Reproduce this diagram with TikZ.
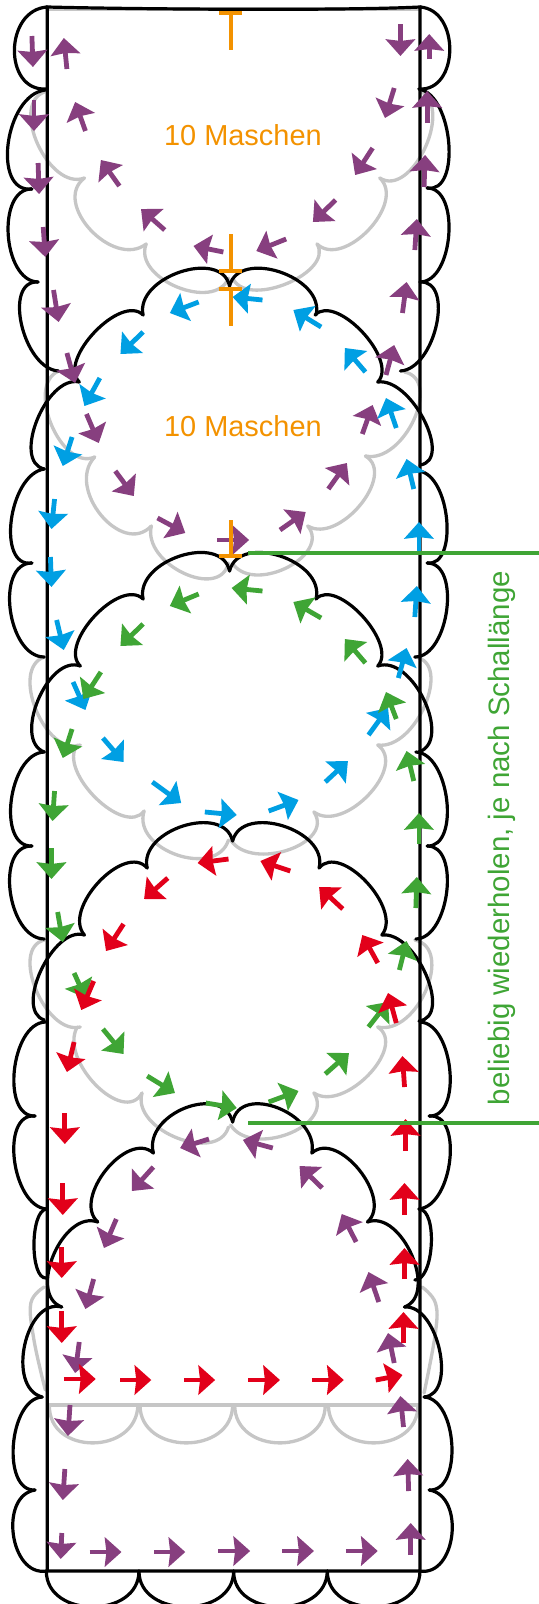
\documentclass[tikz,border=0pt]{standalone}
\usepackage{fontspec}
\setmainfont{Liberation Sans}
\usetikzlibrary{arrows.meta,calc}
\definecolor{lilaarw}{HTML}{873F7F}
\definecolor{blauarw}{HTML}{009FE3}
\definecolor{gruenarw}{HTML}{3FA535}
\definecolor{rotarw}{HTML}{E2001A}
\definecolor{orangeT}{HTML}{F39200}
\definecolor{grauline}{HTML}{C6C6C6}
\tikzset{
  inkline/.style={line width=2.4pt,black,line cap=round},
  greyline/.style={line width=2.5pt,grauline,line cap=round},
  arw/.style={line width=3.6pt,-{Stealth[length=12.5pt,width=22pt,inset=1.2pt]}},
  markT/.style={line width=3pt,orangeT},
  repeatline/.style={line width=2.4pt,gruenarw},
  orangelabel/.style={text=orangeT,font=\fontsize{21.7}{25}\selectfont},
  greenlabel/.style={text=gruenarw,font=\fontsize{22.1}{25}\selectfont,rotate=90}
}
% one scallop: start, point half way round, end
\newcommand{\lobe}[4][inkline]{\draw[#1] (#2) .. controls ($(#2)+1.3333*(#3)-0.6667*(#2)-0.6667*(#4)$) and ($(#4)+1.3333*(#3)-0.6667*(#2)-0.6667*(#4)$) .. (#4);}
\begin{document}
\begin{tikzpicture}[x=0.772pt,y=-0.75pt]
  \useasboundingbox (0,0) rectangle (522.67,1604);
  % grey scallops
  \draw[greyline] (46,9) -- (408,9);
  \lobe[greyline]{43,92}{37,145}{82,178}
  \lobe[greyline]{82,178}{88,230}{142,244}
  \lobe[greyline]{142,244}{172,287}{222,278}
  \lobe[greyline]{227,280}{280,283}{308,244}
  \lobe[greyline]{308,244}{358,230}{369,178}
  \lobe[greyline]{369,178}{412,150}{410,92}
  \lobe[greyline]{57,371}{50,425}{92,457}
  \lobe[greyline]{92,457}{98,515}{147,526}
  \lobe[greyline]{147,526}{178,573}{222,563}
  \lobe[greyline]{227,565}{280,567}{299,526}
  \lobe[greyline]{299,526}{350,505}{355,456}
  \lobe[greyline]{355,456}{402,420}{393,372}
  \lobe[greyline]{43,657}{35,710}{78,745}
  \lobe[greyline]{75,745}{93,798}{140,811}
  \lobe[greyline]{140,811}{172,855}{222,840}
  \lobe[greyline]{224,840}{280,850}{305,812}
  \lobe[greyline]{305,812}{358,795}{367,745}
  \lobe[greyline]{367,745}{413,705}{403,657}
  \lobe[greyline]{43,940}{35,990}{78,1027}
  \lobe[greyline]{75,1027}{93,1085}{138,1093}
  \lobe[greyline]{138,1093}{172,1138}{222,1127}
  \lobe[greyline]{224,1125}{280,1134}{305,1093}
  \lobe[greyline]{305,1093}{358,1075}{367,1027}
  \lobe[greyline]{367,1027}{414,990}{403,940}
  \draw[greyline] plot[smooth,tension=0.65] coordinates {(43,1287)(30,1303)(33,1340)(44,1390)};
  \draw[greyline] plot[smooth,tension=0.65] coordinates {(410,1287)(423,1303)(423,1333)(412,1393)};
  \draw[greyline] (48,1405) -- (406,1405);
  \lobe[greyline]{48,1405}{90,1443}{134,1405}
  \lobe[greyline]{136,1405}{181,1443}{226,1405}
  \lobe[greyline]{228,1405}{272,1443}{316,1405}
  \lobe[greyline]{319,1405}{363,1443}{406,1405}
  % black outline
  \draw[inkline] (46,1571) -- (46,7) .. controls (120,9) and (330,11) .. (408,7) -- (408,1571) -- cycle;
  % left side
  \lobe{46,7}{14,50}{45,89}
  \lobe{44,90}{8,143}{31,189}
  \lobe{31,189}{8,235}{37,282}
  \lobe{37,282}{21,325}{57,371}
  \lobe{223,286}{175,272}{139,315}
  \lobe{139,315}{92,332}{77,382}
  \lobe{77,382}{36,420}{43,469}
  \lobe{43,469}{11,520}{31,563}
  \lobe{31,563}{10,610}{43,657}
  \lobe{223,571}{175,556}{139,599}
  \lobe{139,599}{92,616}{78,666}
  \lobe{78,666}{37,700}{43,752}
  \lobe{43,752}{11,800}{31,846}
  \lobe{31,846}{10,892}{43,939}
  \lobe{226,841}{178,826}{143,868}
  \lobe{143,868}{96,882}{82,935}
  \lobe{82,935}{40,970}{43,1020}
  \lobe{44,1022}{14,1070}{34,1116}
  \lobe{34,1116}{14,1160}{45,1209}
  \lobe{45,1209}{33,1245}{45,1278}
  \lobe{226,1122}{180,1108}{149,1153}
  \lobe{149,1153}{103,1170}{95,1222}
  \lobe{95,1222}{52,1255}{60,1307}
  \lobe{60,1307}{24,1345}{41,1397}
  \lobe{41,1397}{13,1445}{34,1490}
  \lobe{34,1490}{13,1535}{45,1571}
  % right side
  \lobe{408,7}{437,50}{407,89}
  \lobe{407,89}{436,143}{415,188}
  \lobe{415,188}{436,235}{408,282}
  \lobe{408,282}{424,325}{389,371}
  \lobe{223,286}{272,272}{307,315}
  \lobe{306,315}{352,332}{367,382}
  \lobe{367,382}{412,420}{408,465}
  \lobe{407,471}{434,520}{415,563}
  \lobe{415,563}{434,610}{403,657}
  \lobe{223,571}{272,556}{307,599}
  \lobe{307,599}{352,616}{367,666}
  \lobe{367,666}{412,700}{407,752}
  \lobe{404,752}{434,800}{415,846}
  \lobe{415,846}{434,892}{404,939}
  \lobe{226,841}{275,826}{310,868}
  \lobe{310,868}{356,882}{371,935}
  \lobe{371,935}{414,975}{407,1021}
  \lobe{408,1022}{437,1070}{417,1116}
  \lobe{417,1116}{437,1160}{407,1209}
  \lobe{407,1209}{419,1245}{403,1280}
  \lobe{226,1122}{270,1108}{303,1153}
  \lobe{303,1153}{349,1170}{357,1222}
  \lobe{357,1222}{400,1255}{393,1307}
  \lobe{393,1307}{427,1350}{412,1397}
  \lobe{412,1397}{439,1445}{417,1490}
  \lobe{417,1490}{439,1535}{408,1571}
  % bottom
  \lobe{45,1571}{90,1607}{135,1571}
  \lobe{135,1571}{181,1607}{227,1571}
  \lobe{227,1571}{272,1607}{318,1571}
  \lobe{318,1571}{363,1607}{408,1571}
  % arrows
  \foreach \ax/\ay/\bx/\by in {31/36/32/67,65/69/62/38,33/100/33/131,37/163/38/194,42/227/44/257,52/290/57/322,65/353/73/383,
      83/131/73/102,116/186/98/160,160/230/137/209,217/252/188/246,278/239/249/251,326/200/304/222,362/148/345/175,383/88/374/118,389/24/389/56,
      417/59/417/34,415/123/415/91,412/187/413/155,403/250/405/219,391/313/395/282,375/375/383/345,
      352/434/362/405,319/489/337/463,272/530/297/512,211/540/242/540,153/518/180/533,112/471/130/496,84/414/96/443,
      203/1139/175/1148,265/1148/236/1140,149/1167/128/1191,313/1188/291/1166,113/1219/101/1248,346/1242/332/1214,91/1279/83/1309,368/1302/358/1272,
      77/1342/73/1373,383/1363/377/1333,68/1405/66/1436,392/1427/389/1396,63/1469/61/1500,397/1491/396/1459,60/1533/59/1559,399/1555/399/1523,
      87/1552/118/1552,150/1552/180/1552,212/1551/243/1551,274/1551/305/1551,336/1551/367/1551}
    \draw[arw,lilaarw] (\ax,\ay) -- (\bx,\by);
  \foreach \ax/\ay/\bx/\by in {255/300/226/297,193/302/165/313,139/332/117/354,97/378/82/406,70/437/61/466,312/327/285/310,355/372/335/348,385/428/375/398,
      402/489/395/459,407/553/407/522,403/617/405/586,387/678/395/648,358/735/377/708,316/782/338/761,261/811/290/800,199/812/230/815,
      148/782/176/803,100/738/120/762,71/682/83/710,53/499/50/529,49/557/50/587,55/620/62/650}
    \draw[arw,blauarw] (\ax,\ay) -- (\bx,\by);
  \foreach \ax/\ay/\bx/\by in {255/591/225/588,193/594/165/606,139/624/117/646,98/672/81/699,70/729/61/758,53/791/51/821,50/848/50/879,56/912/61/942,
      72/973/83/998,100/1029/120/1054,143/1076/170/1093,200/1103/230/1108,261/1102/290/1091,316/1074/339/1053,358/1027/377/1002,388/970/395/941,
      404/908/405/877,407/844/407/813,402/781/395/751,385/719/375/692,355/663/335/639,312/618/285/602}
    \draw[arw,gruenarw] (\ax,\ay) -- (\bx,\by);
  \foreach \ax/\ay/\bx/\by in {222/859/192/863,163/878/140/899,120/924/103/951,91/981/79/1010,72/1042/65/1072,63/1113/63/1144,61/1183/61/1215,60/1247/60/1278,60/1311/60/1343,
      62/1379/93/1379,117/1380/147/1380,179/1380/209/1380,241/1380/272/1380,303/1380/334/1380,365/1380/391/1375,
      392/1343/392/1312,393/1279/393/1248,393/1215/393/1183,394/1151/394/1119,393/1087/391/1056,385/1023/377/993,367/963/352/935,333/909/310/887,282/871/253/861}
    \draw[arw,rotarw] (\ax,\ay) -- (\bx,\by);
  % orange marks
  \draw[markT] (213,13) -- (235,13) (224,13) -- (224,50);
  \draw[markT] (224,234) -- (224,271) (213,271) -- (235,271);
  \draw[markT] (213,289) -- (235,289) (224,289) -- (224,326);
  \draw[markT] (224,520) -- (224,556) (213,556) -- (235,556);
  \node[orangelabel] (maschenA) at (236,135) {10 Maschen};
  \node[orangelabel] (maschenB) at (236,426) {10 Maschen};
  % repeat marks
  \draw[repeatline] (241,553) -- (530,553);
  \draw[repeatline] (241,1123) -- (530,1123);
  \node[greenlabel] (repeatlabel) at (488,838) {beliebig wiederholen, je nach Schallänge};
\end{tikzpicture}
\end{document}
